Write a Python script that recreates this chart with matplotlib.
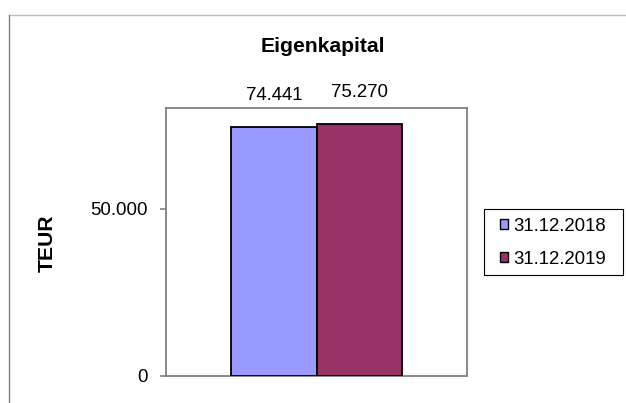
import matplotlib
matplotlib.use("Agg")
import matplotlib.pyplot as plt
from matplotlib.lines import Line2D
from matplotlib.patches import Patch, Rectangle
from matplotlib.ticker import FuncFormatter

plt.rcParams["font.family"] = ["Liberation Sans", "DejaVu Sans"]

title = "Eigenkapital"
ylabel = "TEUR"
series = ["31.12.2018", "31.12.2019"]
values = [74441, 75270]
colors = ["#9999FF", "#993366"]
yticks = [0, 50000]


def de_fmt(v, pos=None):
    return f"{v:,.0f}".replace(",", ".")


W, H = 626, 403
fig = plt.figure(figsize=(W / 100, H / 100), dpi=100)

# plot area in pixel coordinates
x0, x1, y0, y1 = 166, 467, 108, 376
ax = fig.add_axes([x0 / W, 1 - y1 / H, (x1 - x0) / W, (y1 - y0) / H])

bw = 0.284
offsets = [-bw / 2, bw / 2]
for off, v, c, lab in zip(offsets, values, colors, series):
    ax.bar(off, v, width=bw, color=c, edgecolor="black", linewidth=1.3,
           label=lab, zorder=3)
    ax.text(off, v + 6800, de_fmt(v), ha="center", va="bottom", fontsize=13.4)

ax.set_xlim(-0.5, 0.5)
ax.set_ylim(0, 80000)
ax.set_yticks(yticks)
ax.yaxis.set_major_formatter(FuncFormatter(de_fmt))
ax.set_xticks([])
ax.tick_params(axis="y", direction="out", length=4, width=1.2,
               color="#808080", pad=9, labelsize=13.4)
for s in ax.spines.values():
    s.set_color("#808080")
    s.set_linewidth(1.3)

fig.text(323 / W, 1 - 52 / H, title, ha="center", va="baseline",
         fontsize=15.2, fontweight="bold")
fig.text(47 / W, 1 - 243 / H, ylabel, ha="center", va="center",
         rotation=90, fontsize=15.2, fontweight="bold")

# legend: frame drawn separately so its size can follow the reference
fig.add_artist(Rectangle((484 / W, 1 - 275 / H), (623 - 484) / W, 66 / H,
                         transform=fig.transFigure, facecolor="white",
                         edgecolor="black", linewidth=0.8))
handles = [Patch(facecolor=c, edgecolor="black", linewidth=1.0) for c in colors]
fig.legend(handles, series, loc="upper left",
           bbox_to_anchor=(500 / W, 1 - 218 / H),
           fontsize=13.4, frameon=False,
           handlelength=0.45, handleheight=0.45, handletextpad=0.25,
           borderpad=0, labelspacing=0.85, borderaxespad=0)

# outer chart border (top and left edges visible)
fig.add_artist(Line2D([9 / W, 1], [1 - 14.5 / H, 1 - 14.5 / H],
                      color="#bfbfbf", linewidth=1.0))
fig.add_artist(Line2D([9 / W, 9 / W], [0, 1 - 14.5 / H],
                      color="#808080", linewidth=1.0))

fig.savefig("out.png", dpi=100)
